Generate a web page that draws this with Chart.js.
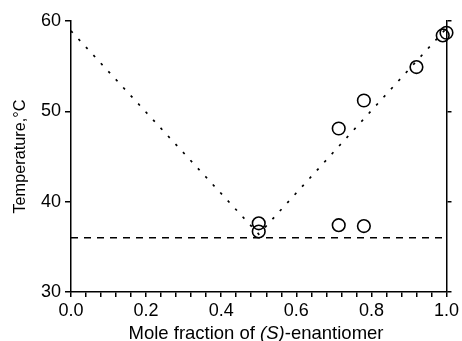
<!DOCTYPE html>
<html>
<head>
<meta charset="utf-8">
<script src="https://cdn.jsdelivr.net/npm/chart.js@4/dist/chart.umd.min.js"></script>
<style>
  html, body { margin: 0; padding: 0; background: #fff; }
  #wrap { width: 462px; height: 341px; }
</style>
</head>
<body>
<div id="wrap"><canvas id="chart" width="462" height="341"></canvas></div>
<script>
// liquidus guide (dotted V)
const liquidusX = [0, 0.5, 1.0];
const liquidusT = [58.9, 36.4, 59.2];
// eutectic line (dashed)
const eutecticX = [0, 1.0];
const eutecticT = [36, 36];
// measured points
const fracS = [0.5, 0.5, 0.713, 0.78, 0.713, 0.78, 0.92, 0.99, 1.0];
const tempC = [37.6, 36.7, 37.4, 37.3, 48.1, 51.2, 54.9, 58.4, 58.7];

const xLabelTicks = [0, 0.2, 0.4, 0.6, 0.8, 1.0];

const toXY = (xs, ys) => xs.map((x, i) => ({ x: x, y: ys[i] }));

const font = 'Liberation Sans, Arial, sans-serif';

// x axis title with italic (S)
const xTitlePlugin = {
    id: 'xTitle',
    afterDraw(chart) {
        const ctx = chart.ctx;
        const parts = [
            { t: 'Mole fraction of ', f: '18.5px ' + font },
            { t: '(S)', f: 'italic 18.5px ' + font },
            { t: '-enantiomer', f: '18.5px ' + font }
        ];
        ctx.save();
        ctx.fillStyle = '#000';
        ctx.textBaseline = 'alphabetic';
        let total = 0;
        parts.forEach(p => { ctx.font = p.f; total += ctx.measureText(p.t).width; });
        let x = 256 - total / 2;
        parts.forEach(p => {
            ctx.font = p.f;
            ctx.fillText(p.t, x, 338.5);
            x += ctx.measureText(p.t).width;
        });
        ctx.restore();
    }
};

new Chart(document.getElementById('chart'), {
    type: 'scatter',
    data: {
        datasets: [
            {
                type: 'line',
                data: toXY(liquidusX, liquidusT),
                borderColor: '#000',
                borderWidth: 1.7,
                borderDash: [2.5, 8.5],
                pointRadius: 0,
                fill: false
            },
            {
                type: 'line',
                data: toXY(eutecticX, eutecticT),
                borderColor: '#000',
                borderWidth: 1.5,
                borderDash: [7, 6],
                pointRadius: 0,
                fill: false
            },
            {
                data: toXY(fracS, tempC),
                pointStyle: 'circle',
                pointRadius: 6.3,
                pointBorderWidth: 1.6,
                pointBorderColor: '#000',
                pointBackgroundColor: 'rgba(0,0,0,0)',
                clip: false
            }
        ]
    },
    options: {
        responsive: false,
        animation: false,
        layout: { padding: { top: 21, left: 0, right: 0, bottom: 0 } },
        plugins: { legend: { display: false }, tooltip: { enabled: false } },
        scales: {
            x: {
                type: 'linear',
                min: 0,
                max: 1,
                afterFit: s => { s.height = 49; },
                afterBuildTicks: s => {
                    const t = [];
                    for (let i = 0; i <= 25; i++) t.push({ value: i * 0.04 });
                    s.ticks = t;
                },
                ticks: {
                    autoSkip: false,
                    maxRotation: 0,
                    color: '#000',
                    padding: 3,
                    font: { family: font, size: 18 },
                    callback: v => {
                        const hit = xLabelTicks.find(m => Math.abs(m - v) < 1e-6);
                        return hit === undefined ? '' : hit.toFixed(1);
                    }
                },
                grid: { drawOnChartArea: false, tickLength: 5, color: '#000', lineWidth: 1.5 },
                border: { color: '#000', width: 1.5 }
            },
            y: {
                min: 30,
                max: 60,
                afterFit: s => { s.width = 71; },
                ticks: {
                    stepSize: 10,
                    color: '#000',
                    padding: 4,
                    font: { family: font, size: 18 }
                },
                title: {
                    display: true,
                    text: 'Temperature,°C',
                    color: '#000',
                    padding: { top: 11, bottom: 0 },
                    font: { family: font, size: 16.3 }
                },
                grid: { drawOnChartArea: false, tickLength: 6, color: '#000', lineWidth: 1.5 },
                border: { color: '#000', width: 1.5 }
            },
            y2: {
                position: 'right',
                min: 30,
                max: 60,
                afterFit: s => { s.width = 15; },
                ticks: { stepSize: 10, display: false },
                grid: { drawOnChartArea: false, tickLength: 5, color: '#000', lineWidth: 1.5 },
                border: { color: '#000', width: 1.5 }
            }
        }
    },
    plugins: [xTitlePlugin]
});
</script>
</body>
</html>
